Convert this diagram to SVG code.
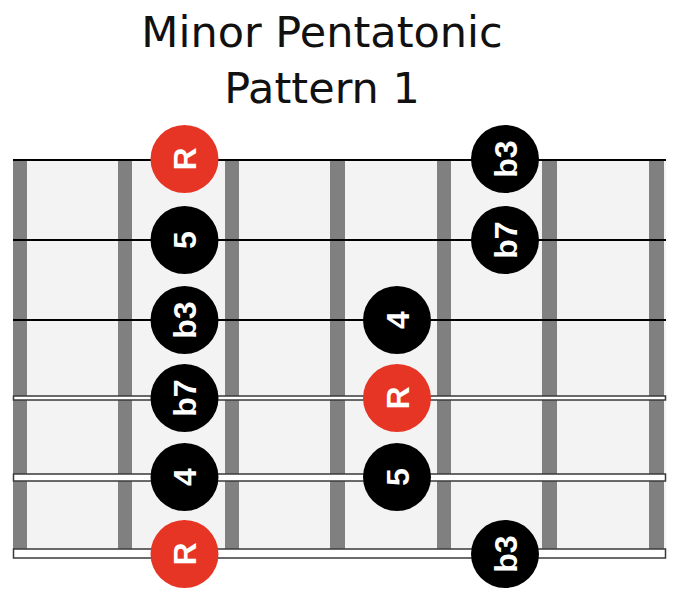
<svg xmlns="http://www.w3.org/2000/svg" width="689" height="597" viewBox="0 0 689 597">
  <style>
    .title { font-family: "DejaVu Sans", Verdana, sans-serif; font-size: 43px; fill: #111; text-anchor: middle; }
    .fret { fill: #808080; }
    .thin { stroke: #000; stroke-width: 2; }
    .wound { fill: #fff; stroke: #3a3a3a; stroke-width: 1.5; }
    .dot { fill: #000; }
    .root { fill: #e63525; }
    .lbl { font-family: "Liberation Sans", Arial, sans-serif; font-weight: bold; font-size: 32px; fill: #fff; text-anchor: middle; }
  </style>
  <rect width="689" height="597" fill="#fff"/>
  <g id="title">
    <text class="title" x="322" y="47">Minor Pentatonic</text>
    <text class="title" x="322" y="103">Pattern 1</text>
  </g>
  <g id="fretboard">
    <rect x="13" y="160" width="653" height="393" fill="#f3f3f3"/>
    <rect class="fret" x="13" y="160" width="14" height="393"/>
    <rect class="fret" x="118" y="160" width="14" height="393"/>
    <rect class="fret" x="225" y="160" width="14" height="393"/>
    <rect class="fret" x="330" y="160" width="15" height="393"/>
    <rect class="fret" x="437" y="160" width="14" height="393"/>
    <rect class="fret" x="542" y="160" width="15" height="393"/>
    <rect class="fret" x="649" y="160" width="15" height="393"/>
  </g>
  <g id="strings">
    <line class="thin" x1="13" y1="160" x2="666" y2="160"/>
    <line class="thin" x1="13" y1="240" x2="666" y2="240"/>
    <line class="thin" x1="13" y1="320" x2="666" y2="320"/>
    <rect class="wound" x="13.5" y="396" width="652" height="4"/>
    <rect class="wound" x="13.5" y="474" width="652" height="7"/>
    <rect class="wound" x="13.5" y="549" width="652" height="9"/>
  </g>
  <g id="n1"><circle class="root" cx="184.5" cy="159" r="34"/><text class="lbl" transform="translate(184.5,159) rotate(-90)" y="11.5">R</text></g>
  <g id="n2"><circle class="dot" cx="505" cy="159" r="34"/><text class="lbl" transform="translate(505,159) rotate(-90)" y="11.5">b3</text></g>
  <g id="n3"><circle class="dot" cx="184.5" cy="240" r="34"/><text class="lbl" transform="translate(184.5,240) rotate(-90)" y="11.5">5</text></g>
  <g id="n4"><circle class="dot" cx="505" cy="240" r="34"/><text class="lbl" transform="translate(505,240) rotate(-90)" y="11.5">b7</text></g>
  <g id="n5"><circle class="dot" cx="184.5" cy="320" r="34"/><text class="lbl" transform="translate(184.5,320) rotate(-90)" y="11.5">b3</text></g>
  <g id="n6"><circle class="dot" cx="397" cy="320" r="34"/><text class="lbl" transform="translate(397,320) rotate(-90)" y="11.5">4</text></g>
  <g id="n7"><circle class="dot" cx="184.5" cy="398" r="34"/><text class="lbl" transform="translate(184.5,398) rotate(-90)" y="11.5">b7</text></g>
  <g id="n8"><circle class="root" cx="397" cy="398" r="34"/><text class="lbl" transform="translate(397,398) rotate(-90)" y="11.5">R</text></g>
  <g id="n9"><circle class="dot" cx="184.5" cy="477" r="34"/><text class="lbl" transform="translate(184.5,477) rotate(-90)" y="11.5">4</text></g>
  <g id="n10"><circle class="dot" cx="397" cy="477" r="34"/><text class="lbl" transform="translate(397,477) rotate(-90)" y="11.5">5</text></g>
  <g id="n11"><circle class="root" cx="184.5" cy="554" r="34"/><text class="lbl" transform="translate(184.5,554) rotate(-90)" y="11.5">R</text></g>
  <g id="n12"><circle class="dot" cx="505" cy="554" r="34"/><text class="lbl" transform="translate(505,554) rotate(-90)" y="11.5">b3</text></g>
</svg>
